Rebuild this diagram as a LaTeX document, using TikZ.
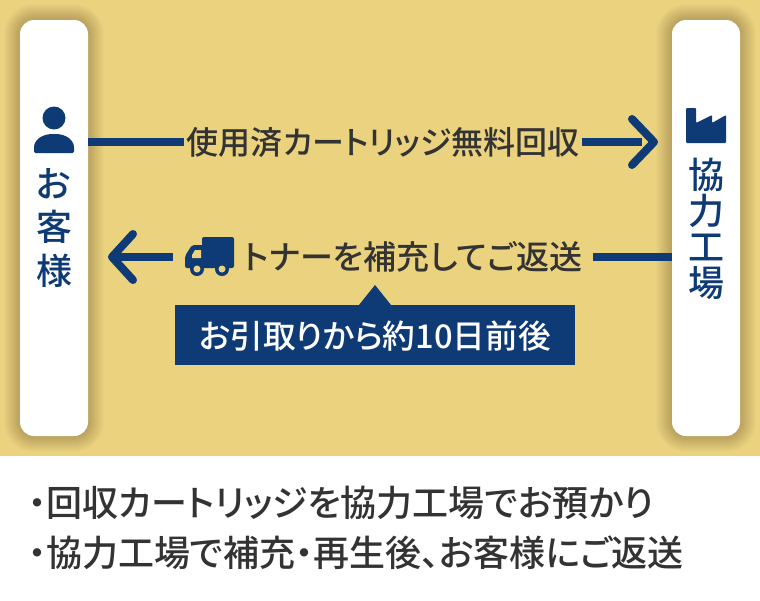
\documentclass[tikz,border=0pt]{standalone}
\usepackage{fontspec}
\setmainfont{Noto Sans CJK JP Medium}[RawFeature={+palt}]
\usetikzlibrary{positioning}
\definecolor{sandbg}{HTML}{EAD27F}
\definecolor{navy}{HTML}{0E3A75}
\definecolor{inktext}{HTML}{333333}
\tikzset{
  party/.style={fill=white,rounded corners=14pt,minimum width=68pt,minimum height=416pt,inner sep=0pt},
  arrowline/.style={draw=navy,line width=8pt},
  arrowhead/.style={draw=navy,line width=8pt,line join=round,line cap=round},
  flowtext/.style={text=inktext,font=\fontsize{32}{32}\selectfont,inner sep=0pt},
  sidetext/.style={text=navy,font=\fontsize{36}{43.5}\selectfont,align=center,inner sep=0pt},
  notetext/.style={text=inktext,font=\fontsize{36}{36}\selectfont,inner sep=0pt,anchor=west},
}
\begin{document}
\begin{tikzpicture}[x=1pt,y=-1pt]
\useasboundingbox (0,0) rectangle (760,600);
\fill[white] (0,0) rectangle (760,600);
\fill[sandbg] (0,0) rectangle (760,456);
% soft shadows
\begin{scope}
\clip (0,0) rectangle (760,456);
\foreach \r in {1,2,...,16}{
  \fill[black,opacity=0.012,rounded corners=14pt+\r pt] (20-\r,20-\r) rectangle (88+\r,436+\r);
  \fill[black,opacity=0.012,rounded corners=14pt+\r pt] (672-\r,20-\r) rectangle (740+\r,436+\r);
}
\end{scope}
% both sides
\node[party] (client) at (54,228) {};
\node[party] (factory) at (706,228) {};
\node[sidetext] (clientlbl) at (54,228) {お\\客\\様};
\node[sidetext,font=\fontsize{36}{36}\selectfont] (factorylbl) at (706,229) {協\\力\\工\\場};
% person icon
\fill[navy] (54,118) circle (11.5);
\fill[navy,rounded corners=1.5pt] (34,153) -- (34,149) .. controls (34,140) and (42,134) .. (54,134) .. controls (66,134) and (74,140) .. (74,149) -- (74,153) -- cycle;
% factory icon
\fill[navy,rounded corners=1pt] (686,143) -- (686,108) -- (696,108) -- (696,123) -- (712,115) -- (712,123) -- (726,115) -- (726,143) -- cycle;
% upper flow
\node[flowtext] (usedlbl) at (383,142) {使用済カートリッジ無料回収};
\coordinate (usedtip) at (654,142);
\coordinate (usedend) at (642,142);
\draw[arrowline] (usedlbl.east) ++(3,0) -- (usedend);
\draw[arrowline] (client.east |- usedlbl) -- ([xshift=-3pt]usedlbl.west);
\draw[arrowhead] (632,119) -- (usedtip) -- (632,165);
% lower flow
\node[flowtext,font=\fontsize{33}{33}\selectfont] (tonerlbl) at (413,257) {トナーを補充してご返送};
\coordinate (tonertip) at (112,257);
\coordinate (tonerend) at (173,257);
\coordinate (tonerstart) at (593,257);
\draw[arrowline] (factory.west |- tonerlbl) -- (tonerstart);
\draw[arrowline] (tonertip) -- (tonerend);
\draw[arrowhead] (133,234) -- (tonertip) -- (133,280);
% truck icon
\fill[navy,rounded corners=2pt] (202,237) rectangle (234,268);
\fill[navy,rounded corners=2pt] (185,268) -- (185,256) -- (192,245) -- (203,245) -- (203,268) -- cycle;
\fill[sandbg] (192,258) -- (192,255) -- (195,250) -- (201,250) -- (201,258) -- cycle;
\fill[navy] (197,269) circle (7);
\fill[navy] (222,269) circle (7);
\fill[sandbg] (197,269) circle (3.5);
\fill[sandbg] (222,269) circle (3.5);
% badge
\fill[navy] (175,305) rectangle (575,365);
\fill[navy] (359,305) -- (375,285) -- (391,305) -- cycle;
\node[text=white,font=\fontsize{32.7}{33}\selectfont,inner sep=0pt] (leadlbl) at (375,336) {お引取りから約10日前後};
% notes
\node[notetext] (note1) at (28,503) {・回収カートリッジを協力工場でお預かり};
\node[notetext] (note2) at (28,553) {・協力工場で補充・再生後、お客様にご返送};
\end{tikzpicture}
\end{document}
